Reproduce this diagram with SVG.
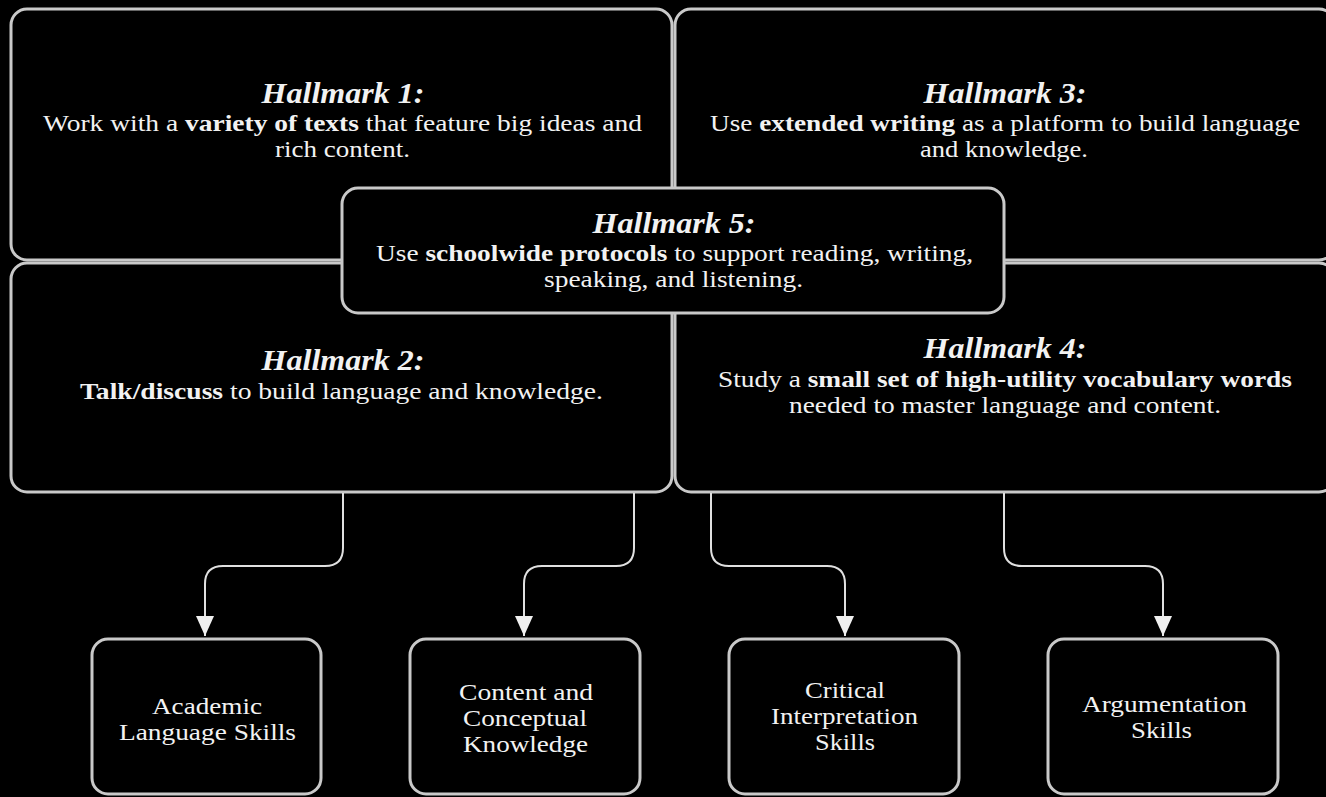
<svg xmlns="http://www.w3.org/2000/svg" width="1326" height="797" viewBox="0 0 1326 797">
<style>
.box{fill:#000;stroke:#c9c9c9;stroke-width:3}
.t{font-family:"Liberation Serif","Times New Roman",serif;fill:#f2f2f2;text-anchor:middle}
.h{font-size:30px;font-weight:bold;font-style:italic}
.b{font-size:23px}
.s{font-size:23px}
.c{fill:none;stroke:#e0e0e0;stroke-width:2}
</style>
<defs>
<marker id="arr" markerWidth="22" markerHeight="18" refX="20" refY="9" orient="auto" markerUnits="userSpaceOnUse">
<path d="M0,0 L20,9 L0,18 Z" fill="#f0f0f0"/>
</marker>
</defs>
<rect width="1326" height="797" fill="#000"/>
<g id="hallmark1">
<rect class="box" x="11" y="9" width="661" height="251" rx="16"/>
<text class="t h" x="343" y="103" textLength="163" lengthAdjust="spacingAndGlyphs">Hallmark 1:</text>
<text class="t b" x="342.5" y="131" textLength="599" lengthAdjust="spacingAndGlyphs">Work with a <tspan font-weight="bold">variety of texts</tspan> that feature big ideas and</text>
<text class="t b" x="342.5" y="157" textLength="135" lengthAdjust="spacingAndGlyphs">rich content.</text>
</g>
<g id="hallmark3">
<rect class="box" x="675" y="9" width="660" height="251" rx="16"/>
<text class="t h" x="1005" y="103" textLength="163" lengthAdjust="spacingAndGlyphs">Hallmark 3:</text>
<text class="t b" x="1005" y="131" textLength="590" lengthAdjust="spacingAndGlyphs">Use <tspan font-weight="bold">extended writing</tspan> as a platform to build language</text>
<text class="t b" x="1004" y="157" textLength="168" lengthAdjust="spacingAndGlyphs">and knowledge.</text>
</g>
<g id="hallmark2">
<rect class="box" x="11" y="263" width="661" height="229" rx="16"/>
<text class="t h" x="343" y="370" textLength="163" lengthAdjust="spacingAndGlyphs">Hallmark 2:</text>
<text class="t b" x="341.5" y="399" textLength="523" lengthAdjust="spacingAndGlyphs"><tspan font-weight="bold">Talk/discuss</tspan> to build language and knowledge.</text>
</g>
<g id="hallmark4">
<rect class="box" x="675" y="263" width="660" height="229" rx="16"/>
<text class="t h" x="1005" y="358" textLength="163" lengthAdjust="spacingAndGlyphs">Hallmark 4:</text>
<text class="t b" x="1005" y="387" textLength="574" lengthAdjust="spacingAndGlyphs">Study a <tspan font-weight="bold">small set of high-utility vocabulary words</tspan></text>
<text class="t b" x="1005" y="413" textLength="432" lengthAdjust="spacingAndGlyphs">needed to master language and content.</text>
</g>
<g id="hallmark5">
<rect class="box" x="342" y="188" width="662" height="125" rx="16"/>
<text class="t h" x="674" y="233" textLength="163" lengthAdjust="spacingAndGlyphs">Hallmark 5:</text>
<text class="t b" x="674.5" y="261" textLength="597" lengthAdjust="spacingAndGlyphs">Use <tspan font-weight="bold">schoolwide protocols</tspan> to support reading, writing,</text>
<text class="t b" x="673.5" y="287" textLength="259" lengthAdjust="spacingAndGlyphs">speaking, and listening.</text>
</g>
<g id="connectors">
<path class="c" d="M343,493 V548 Q343,566 325,566 H223 Q205,566 205,584 V636" marker-end="url(#arr)"/>
<path class="c" d="M634,493 V548 Q634,566 616,566 H542 Q524,566 524,584 V636" marker-end="url(#arr)"/>
<path class="c" d="M711,493 V548 Q711,566 729,566 H827 Q845,566 845,584 V636" marker-end="url(#arr)"/>
<path class="c" d="M1004,493 V548 Q1004,566 1022,566 H1145 Q1163,566 1163,584 V636" marker-end="url(#arr)"/>
</g>
<g id="academic">
<rect class="box" x="92" y="639" width="229" height="155" rx="16"/>
<text class="t s" x="207" y="714" textLength="110" lengthAdjust="spacingAndGlyphs">Academic</text>
<text class="t s" x="207.5" y="740" textLength="177" lengthAdjust="spacingAndGlyphs">Language Skills</text>
</g>
<g id="content">
<rect class="box" x="410" y="639" width="230" height="155" rx="16"/>
<text class="t s" x="526" y="700" textLength="134" lengthAdjust="spacingAndGlyphs">Content and</text>
<text class="t s" x="525" y="726" textLength="124" lengthAdjust="spacingAndGlyphs">Conceptual</text>
<text class="t s" x="525.5" y="752" textLength="125" lengthAdjust="spacingAndGlyphs">Knowledge</text>
</g>
<g id="critical">
<rect class="box" x="729" y="639" width="230" height="155" rx="16"/>
<text class="t s" x="845" y="698" textLength="80" lengthAdjust="spacingAndGlyphs">Critical</text>
<text class="t s" x="844.5" y="724" textLength="147" lengthAdjust="spacingAndGlyphs">Interpretation</text>
<text class="t s" x="845" y="750" textLength="60" lengthAdjust="spacingAndGlyphs">Skills</text>
</g>
<g id="argumentation">
<rect class="box" x="1048" y="639" width="230" height="155" rx="16"/>
<text class="t s" x="1164.5" y="712" textLength="165" lengthAdjust="spacingAndGlyphs">Argumentation</text>
<text class="t s" x="1161.5" y="738" textLength="61" lengthAdjust="spacingAndGlyphs">Skills</text>
</g>
</svg>
